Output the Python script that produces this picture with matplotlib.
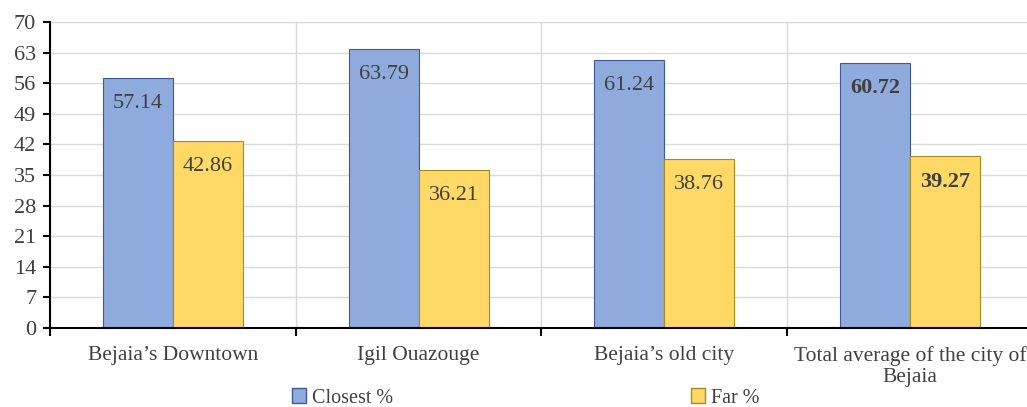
import numpy as np
import matplotlib.pyplot as plt
from matplotlib.patches import Patch

plt.rcParams['font.family'] = ['Liberation Serif', 'DejaVu Serif']

categories = ["Bejaia\u2019s Downtown", "Igil Ouazouge", "Bejaia\u2019s old city",
              "Total average of the city of\nBejaia"]
closest = [57.14, 63.79, 61.24, 60.72]
far = [42.86, 36.21, 38.76, 39.27]
yticks = [0, 7, 14, 21, 28, 35, 42, 49, 56, 63, 70]

text_col = '#404040'
blue, blue_edge = '#8FAADC', '#3C5A99'
yellow, yellow_edge = '#FFD966', '#A88A1E'

fig = plt.figure(figsize=(10.27, 4.07), dpi=100)
ax = fig.add_axes([0.0487, 0.194, 0.957, 0.752])

x = np.arange(len(categories))
w = 0.285
b1 = ax.bar(x - w / 2, closest, w, color=blue, edgecolor=blue_edge, linewidth=0.8, zorder=3)
b2 = ax.bar(x + w / 2, far, w, color=yellow, edgecolor=yellow_edge, linewidth=0.8, zorder=3)

for bars, vals in ((b1, closest), (b2, far)):
    for i, (r, v) in enumerate(zip(bars, vals)):
        ax.annotate(f"{v:.2f}", (r.get_x() + r.get_width() / 2, v),
                    xytext=(0, -18.5), textcoords='offset points',
                    ha='center', va='center', fontsize=16, color=text_col,
                    fontweight='bold' if i == 3 else 'normal', zorder=4)

ax.set_xlim(-0.5, len(categories) - 0.5)
ax.set_ylim(0, 70)
ax.set_yticks(yticks)
ax.tick_params(axis='y', direction='out', length=5, width=1.5, colors='black',
               labelcolor=text_col, labelsize=16, pad=5)

# category boundaries carry the tick marks, labels sit at the centres
ax.set_xticks(np.arange(len(categories) + 1) - 0.5)
ax.set_xticklabels([])
ax.set_xticks(x, minor=True)
ax.set_xticklabels(categories, minor=True, linespacing=1.15)
ax.tick_params(axis='x', which='major', direction='out', length=6, width=1.5, colors='black')
ax.tick_params(axis='x', which='minor', length=0, labelcolor=text_col, labelsize=15.5, pad=13)

ax.grid(axis='y', color='#D9D9D9', linewidth=1, zorder=0)
ax.grid(axis='x', which='major', color='#D9D9D9', linewidth=1, zorder=0)

for s in ('top', 'right'):
    ax.spines[s].set_visible(False)
for s in ('left', 'bottom'):
    ax.spines[s].set_linewidth(1.5)
    ax.spines[s].set_zorder(5)

handles = [Patch(facecolor=blue, edgecolor=blue_edge, label='Closest %'),
           Patch(facecolor=yellow, edgecolor=yellow_edge, label='Far %')]
fig.legend(handles=handles, loc='center', bbox_to_anchor=(0.512, 0.022), ncol=2,
           frameon=False, fontsize=14.5, labelcolor=text_col, handlelength=0.7,
           handleheight=0.7, handletextpad=0.3, columnspacing=14.8)

fig.savefig('out.png', dpi=100)
